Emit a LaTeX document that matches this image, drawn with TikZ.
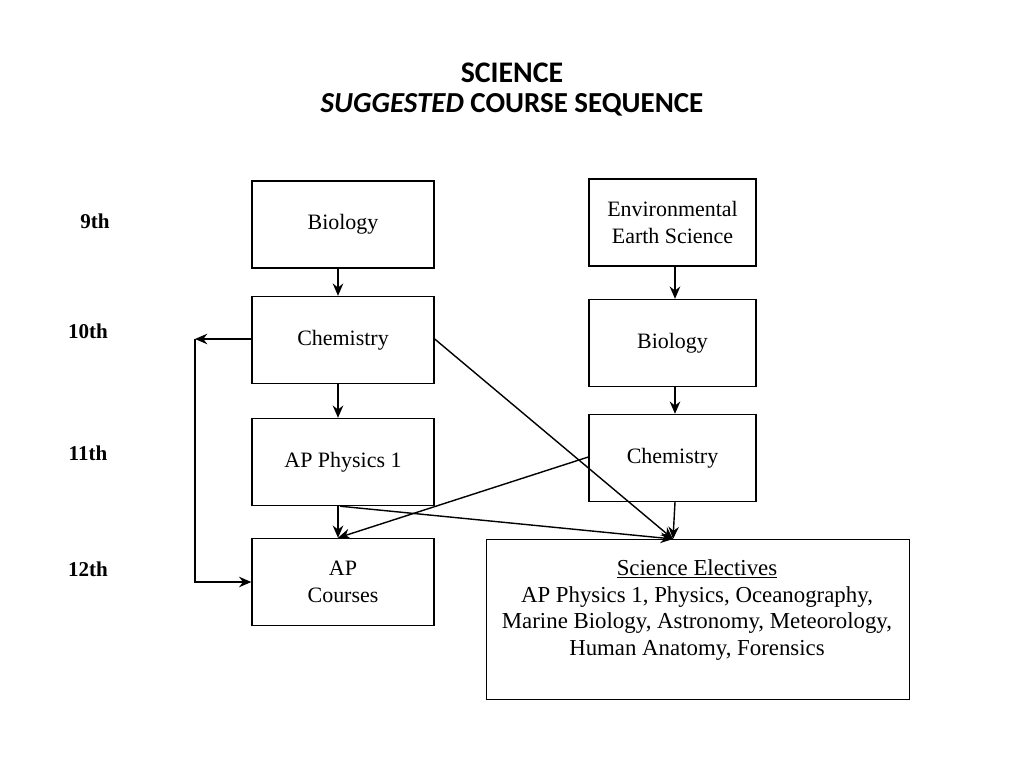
\documentclass[tikz,border=0pt]{standalone}
\usepackage{fontspec}
\setmainfont{Liberation Serif}
\newfontfamily\titlefont{Carlito}
\usetikzlibrary{positioning, arrows.meta}

\begin{document}
\begin{tikzpicture}[x=0.02cm, y=-0.02cm,
    course/.style={draw, thick, minimum width=3.64cm, minimum height=1.74cm, align=center, font=\fontsize{12.5}{15}\selectfont},
    rcourse/.style={course, minimum width=3.34cm},
    grade/.style={font=\fontsize{12}{14}\selectfont\bfseries},
    link/.style={thick, -{Stealth[length=7pt, width=6pt]}}]
            \useasboundingbox (0,0) rectangle (1024,768);

            % Title
            \node[font=\titlefont\fontsize{17}{20}\selectfont\bfseries] (title) at (512,73) {SCIENCE};
            \node[font=\titlefont\fontsize{16.5}{20}\selectfont\bfseries] (subtitle) at (512,105) {\textit{SUGGESTED} COURSE SEQUENCE};

            % Grades
            \node[grade] (g9) at (95,221) {9th};
            \node[grade] (g10) at (88,331) {10th};
            \node[grade] (g11) at (88,453) {11th};
            \node[grade] (g12) at (88,569) {12th};

            % Left track
            \node[course] (bioL) at (343,224.5) {Biology};
            \node[course] (chemL) at (343,340) {Chemistry};
            \node[course] (phys) at (343,462) {AP Physics 1};
            \node[course] (apc) at (343,582) {AP\\Courses};

            % Right track
            \node[rcourse] (env) at (672.5,222.5) {Environmental\\Earth Science};
            \node[rcourse] (bioR) at (672.5,343) {Biology};
            \node[rcourse] (chemR) at (672.5,458) {Chemistry};
            \node[draw, thick, minimum width=8.46cm, minimum height=3.2cm, anchor=north west] (elect) at (486,539) {};
            \node[align=center, font=\fontsize{13}{15.3}\selectfont] (electtext) at (697,610)
                  {\underline{Science Electives}\\AP Physics 1, Physics, Oceanography,\\Marine Biology, Astronomy, Meteorology,\\Human Anatomy, Forensics};

            \coordinate (elin) at (673,539);
            \coordinate (loopT) at (195,339);
            \coordinate (loopB) at (195,582);

            % Draw edges
            \draw[link] (bioL.south -| 338,0) -- (chemL.north -| 338,0);
            \draw[link] (chemL.south -| 338,0) -- (phys.north -| 338,0);
            \draw[link] (phys.south -| 338,0) -- (apc.north -| 338,0);
            \draw[link] (env.south -| 675,0) -- (bioR.north -| 675,0);
            \draw[link] (bioR.south -| 675,0) -- (chemR.north -| 675,0);
            \draw[link] (chemR.south -| 675,0) -- (elin);
            \draw[link] (chemL.east |- 0,339) -- (elin);
            \draw[link] (phys.south -| 340,0) -- (elin);
            \draw[link] (chemR.west |- 0,457) -- (apc.north -| 338,0);
            \draw[link] (chemL.west |- loopT) -- (loopT);
            \draw[link] (loopT) -- (loopB) -- (apc.west |- loopB);
        \end{tikzpicture}
\end{document}
